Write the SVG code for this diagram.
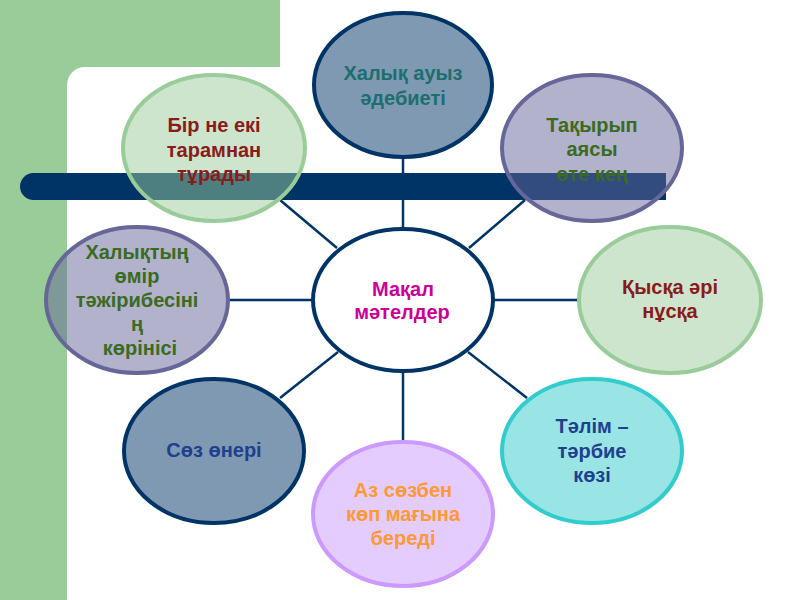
<svg xmlns="http://www.w3.org/2000/svg" width="800" height="600" viewBox="0 0 800 600">
<style>
.t{font-family:"Liberation Sans",Arial,sans-serif;font-weight:bold;font-size:20px;text-anchor:middle}
.navyE{fill:#003366;fill-opacity:0.5;stroke:#003366;stroke-width:4}
.greenE{fill:#99cc99;fill-opacity:0.5;stroke:#99cc99;stroke-width:4}
.lavE{fill:#666699;fill-opacity:0.5;stroke:#666699;stroke-width:4}
.cyanE{fill:#33cccc;fill-opacity:0.5;stroke:#33cccc;stroke-width:4}
.purpE{fill:#cc99ff;fill-opacity:0.5;stroke:#cc99ff;stroke-width:4}
.conn line{stroke:#003366;stroke-width:2.5}
</style>
<rect width="800" height="600" fill="#ffffff"/>
<path d="M0 0 H280 V67 H85 A18 18 0 0 0 67 85 V600 H0 Z" fill="#99cc99"/>
<g id="connectors" class="conn">
<line x1="403" y1="229" x2="403" y2="157"/>
<line x1="337" y1="248" x2="280" y2="200"/>
<line x1="469" y1="248" x2="525" y2="200"/>
<line x1="229" y1="300" x2="313" y2="300"/>
<line x1="493" y1="300" x2="578" y2="300"/>
<line x1="338" y1="352" x2="280" y2="398"/>
<line x1="468" y1="352" x2="527" y2="398"/>
<line x1="403" y1="372" x2="403" y2="441"/>
</g>
<path id="bar" d="M33.5 173 H666 V200 H33.5 A13.5 13.5 0 0 1 33.5 173 Z" fill="#003366"/>
<g id="n-center">
<ellipse cx="403" cy="300" rx="90" ry="71" fill="#ffffff" stroke="#003366" stroke-width="4"/>
<text class="t" x="403" y="296" fill="#cc0099">Мақал</text>
<text class="t" x="402" y="319" fill="#cc0099">мәтелдер</text>
</g>
<g id="n-top">
<ellipse class="navyE" cx="403" cy="85" rx="89" ry="72"/>
<text class="t" x="403" y="80" fill="#1d6e6e">Халық ауыз</text>
<text class="t" x="403" y="105" fill="#1d6e6e">әдебиеті</text>
</g>
<g id="n-topleft">
<ellipse class="greenE" cx="214" cy="148" rx="91" ry="73"/>
<text class="t" x="214" y="132" fill="#8b1a1a">Бір не екі</text>
<text class="t" x="214" y="157" fill="#8b1a1a">тарамнан</text>
<text class="t" x="214" y="181" fill="#8b1a1a">тұрады</text>
</g>
<g id="n-topright">
<ellipse class="lavE" cx="592" cy="148" rx="90" ry="73"/>
<text class="t" x="592" y="132" fill="#3a6b1f">Тақырып</text>
<text class="t" x="592" y="156" fill="#3a6b1f">аясы</text>
<text class="t" x="592" y="181" fill="#3a6b1f">өте кең</text>
</g>
<g id="n-left">
<ellipse class="lavE" cx="137" cy="300" rx="91" ry="73"/>
<text class="t" x="137" y="259" fill="#3a6b1f">Халықтың</text>
<text class="t" x="137" y="283" fill="#3a6b1f">өмір</text>
<text class="t" x="137" y="307" fill="#3a6b1f">тәжірибесіні</text>
<text class="t" x="137" y="331" fill="#3a6b1f">ң</text>
<text class="t" x="140" y="355" fill="#3a6b1f">көрінісі</text>
</g>
<g id="n-right">
<ellipse class="greenE" cx="670" cy="300" rx="91" ry="73"/>
<text class="t" x="670" y="294" fill="#8b1a1a">Қысқа әрі</text>
<text class="t" x="670" y="318" fill="#8b1a1a">нұсқа</text>
</g>
<g id="n-bottomright">
<ellipse class="cyanE" cx="592" cy="451" rx="90" ry="72"/>
<text class="t" x="592" y="433" fill="#1f3f8f">Тәлім –</text>
<text class="t" x="592" y="458" fill="#1f3f8f">тәрбие</text>
<text class="t" x="592" y="482" fill="#1f3f8f">көзі</text>
</g>
<g id="n-bottom">
<ellipse class="purpE" cx="403" cy="514" rx="90" ry="72"/>
<text class="t" x="403" y="497" fill="#ff9933">Аз сөзбен</text>
<text class="t" x="403" y="521" fill="#ff9933">көп мағына</text>
<text class="t" x="403" y="545" fill="#ff9933">береді</text>
</g>
<g id="n-bottomleft">
<ellipse class="navyE" cx="214" cy="451" rx="90" ry="72"/>
<text class="t" x="214" y="457" fill="#1f3f8f">Сөз өнері</text>
</g>
</svg>
